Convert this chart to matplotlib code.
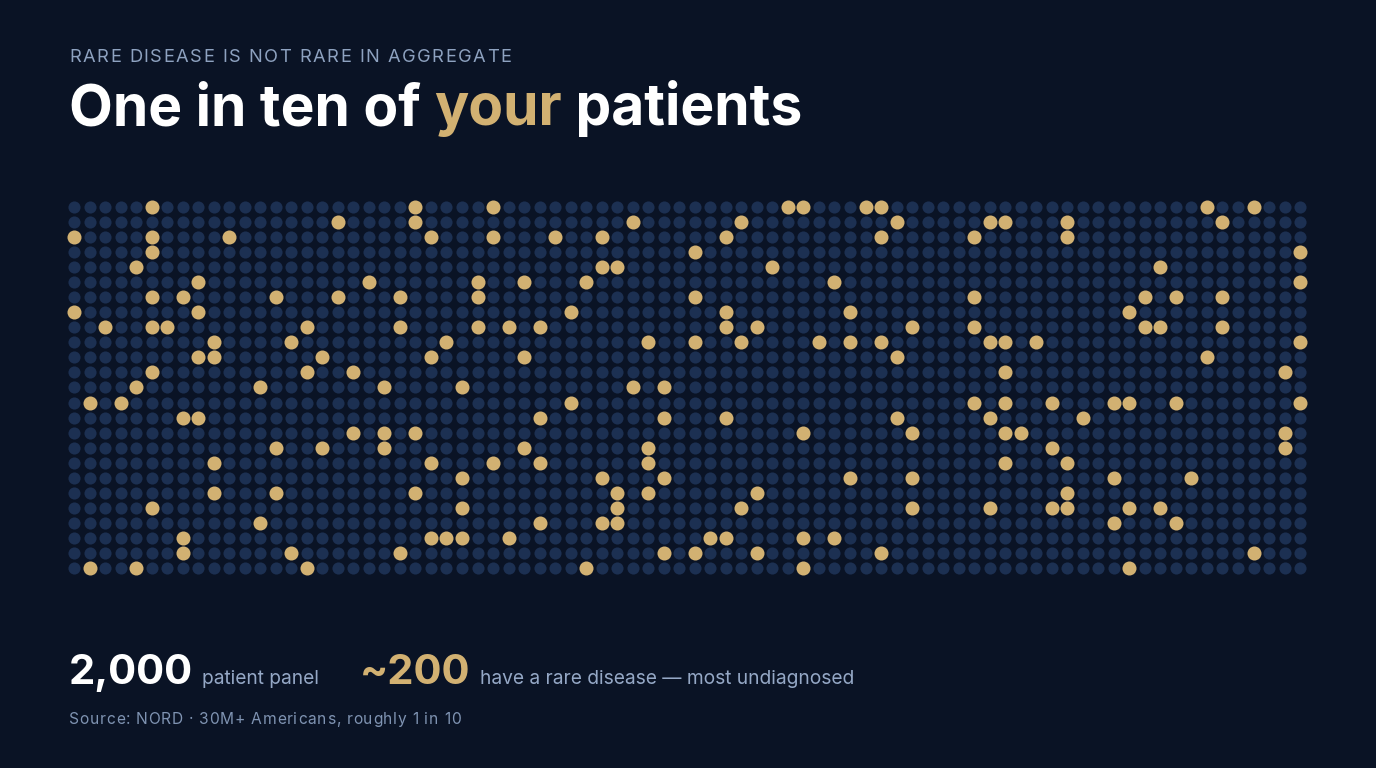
import numpy as np
import matplotlib
matplotlib.use("Agg")
import matplotlib.pyplot as plt

plt.rcParams['font.family'] = ['Inter', 'DejaVu Sans']

# grid of 2,000 patients: 25 rows x 80 columns
n_rows = 25
n_cols = 80

# highlighted (rare disease) columns for each row
rare_by_row = [
    [5, 22, 27, 46, 47, 51, 52, 73, 76],
    [17, 22, 36, 43, 53, 59, 60, 64, 74],
    [0, 5, 10, 23, 27, 31, 34, 42, 52, 58, 64],
    [5, 40, 79],
    [4, 34, 35, 45, 70],
    [8, 19, 26, 29, 33, 49, 79],
    [5, 7, 13, 17, 21, 26, 40, 58, 69, 71, 74],
    [0, 8, 32, 42, 50, 68],
    [2, 5, 6, 15, 21, 26, 28, 30, 42, 44, 54, 58, 69, 70, 74],
    [9, 14, 24, 37, 40, 43, 48, 50, 52, 59, 60, 62, 79],
    [8, 9, 16, 23, 29, 53, 73],
    [5, 15, 18, 60, 78],
    [4, 12, 20, 25, 36, 38],
    [1, 3, 32, 58, 60, 63, 67, 68, 71, 79],
    [7, 8, 30, 38, 42, 53, 59, 65],
    [18, 20, 22, 47, 54, 60, 61, 78],
    [13, 16, 20, 29, 37, 63, 78],
    [9, 23, 27, 30, 37, 60, 64],
    [25, 34, 38, 50, 54, 67, 72],
    [9, 13, 22, 35, 37, 44, 64],
    [5, 25, 35, 43, 54, 59, 63, 64, 68, 70],
    [12, 30, 34, 35, 67, 71],
    [7, 23, 24, 25, 28, 41, 42, 47, 49],
    [7, 14, 21, 38, 40, 44, 52, 76],
    [1, 4, 15, 33, 47, 68],
]

kicker = "RARE DISEASE IS NOT RARE IN AGGREGATE"
title_parts = [("One in ten of ", "white"), ("your", "gold"), (" patients", "white")]
panel_num = "2,000"
panel_text = "patient panel"
rare_num = "~200"
rare_text = "have a rare disease \u2014 most undiagnosed"
source = "Source: NORD \u00b7 30M+ Americans, roughly 1 in 10"

BG = '#0a1325'
DIM = '#1c3052'
GOLD = '#d2b172'
WHITE = '#ffffff'
MUTED = '#95a8c6'
SRC = '#7f93b2'
colors = {"white": WHITE, "gold": GOLD}

W, H = 1376, 768
fig = plt.figure(figsize=(W / 100, H / 100), dpi=100, facecolor=BG)

# dot grid axes placed in pixel terms
dx, dy = 15.52, 15.04
left = 74 - dx / 2
top = 207 - dy / 2
ax = fig.add_axes([left / W, 1 - (top + n_rows * dy) / H, n_cols * dx / W, n_rows * dy / H])
ax.set_facecolor(BG)
ax.set_xlim(-0.5, n_cols - 0.5)
ax.set_ylim(n_rows - 0.5, -0.5)
ax.axis('off')

cols, rows = np.meshgrid(np.arange(n_cols), np.arange(n_rows))
rare = np.zeros((n_rows, n_cols), dtype=bool)
for r, cs in enumerate(rare_by_row):
    rare[r, cs] = True

ax.scatter(cols[~rare], rows[~rare], s=76, color=DIM, linewidths=0)
ax.scatter(cols[rare], rows[rare], s=102, color=GOLD, linewidths=0, zorder=3)

renderer = fig.canvas.get_renderer()


def put(x, y, s, size, color, weight='normal', tracking=0.0):
    # x, y in pixels from top-left, y is the baseline; returns right edge in px
    if tracking == 0:
        t = fig.text(x / W, 1 - y / H, s, fontsize=size, color=color,
                     fontweight=weight, va='baseline', ha='left')
        bb = t.get_window_extent(renderer)
        return bb.x1
    for ch in s:
        t = fig.text(x / W, 1 - y / H, ch, fontsize=size, color=color,
                     fontweight=weight, va='baseline', ha='left')
        bb = t.get_window_extent(renderer)
        if ch == ' ':
            x += size * 0.28 / 0.72 + tracking
        else:
            x = bb.x1 + tracking
    return x


put(69, 62, kicker, 13.2, '#8ea2c0', tracking=1.5)

x = 69
for txt, c in title_parts:
    x = put(x, 125, txt, 41, colors[c], weight='bold')

x = put(69, 684, panel_num, 30, WHITE, weight='bold')
put(x + 9, 684, panel_text, 13.8, MUTED)
x = put(360, 684, rare_num, 30, GOLD, weight='bold')
put(x + 10, 684, rare_text, 13.8, MUTED)

put(69, 724, source, 11.2, SRC, tracking=0.75)

fig.savefig('out.png', dpi=100, facecolor=BG)
